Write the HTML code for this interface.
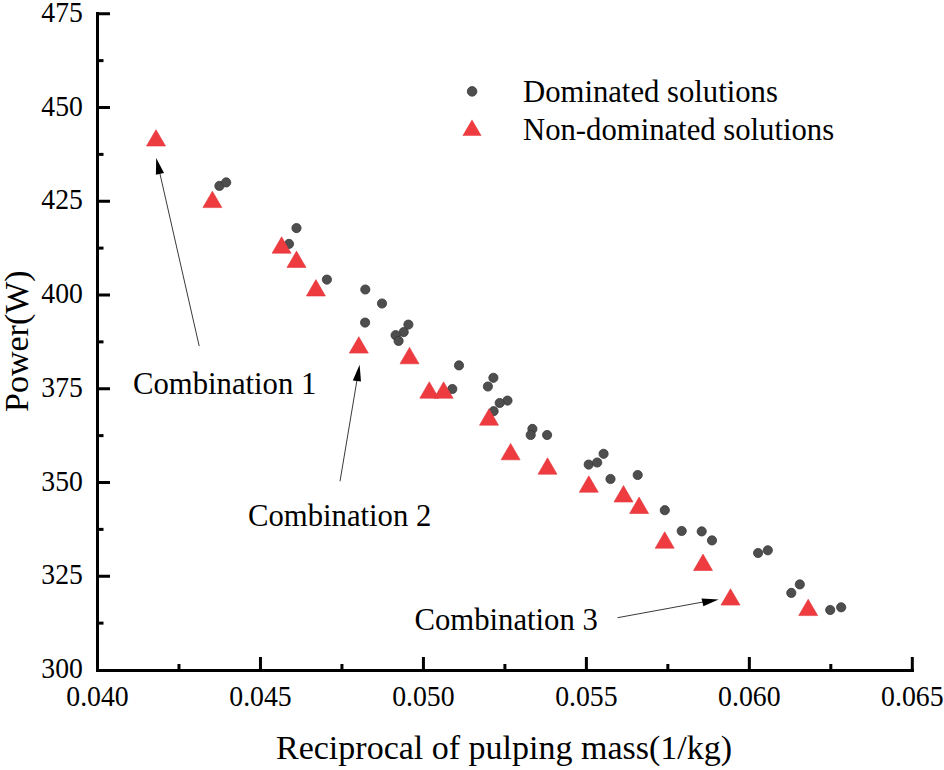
<!DOCTYPE html>
<html><head><meta charset="utf-8"><style>
html,body{margin:0;padding:0;background:#fff;}
body{width:944px;height:770px;overflow:hidden;}
svg{display:block;}
text{font-family:"Liberation Serif",serif;fill:#000;}
</style></head><body>
<svg width="944" height="770" viewBox="0 0 944 770">
<rect width="944" height="770" fill="#fff"/>
<g fill="#4e4e4e" stroke="#383838" stroke-width="0.8"><circle cx="219.4" cy="185.9" r="4.6"/><circle cx="226.2" cy="182.4" r="4.6"/><circle cx="296.5" cy="228.1" r="4.6"/><circle cx="289" cy="243.9" r="4.6"/><circle cx="326.9" cy="279.6" r="4.6"/><circle cx="365.3" cy="289.5" r="4.6"/><circle cx="382" cy="303.5" r="4.6"/><circle cx="365.1" cy="322.6" r="4.6"/><circle cx="408.4" cy="324.6" r="4.6"/><circle cx="403.7" cy="332.1" r="4.6"/><circle cx="395.6" cy="335.2" r="4.6"/><circle cx="398.6" cy="340.9" r="4.6"/><circle cx="459" cy="365.4" r="4.6"/><circle cx="452.3" cy="389" r="4.6"/><circle cx="493.4" cy="377.8" r="4.6"/><circle cx="487.9" cy="386.5" r="4.6"/><circle cx="507.5" cy="400.6" r="4.6"/><circle cx="499.7" cy="403" r="4.6"/><circle cx="493.6" cy="411.2" r="4.6"/><circle cx="532.4" cy="428.9" r="4.6"/><circle cx="530.7" cy="435" r="4.6"/><circle cx="547.1" cy="435" r="4.6"/><circle cx="588.7" cy="464.6" r="4.6"/><circle cx="597.2" cy="462.5" r="4.6"/><circle cx="603.6" cy="453.8" r="4.6"/><circle cx="610.5" cy="479" r="4.6"/><circle cx="637.7" cy="475" r="4.6"/><circle cx="664.8" cy="510.2" r="4.6"/><circle cx="681.7" cy="531" r="4.6"/><circle cx="701.7" cy="531.4" r="4.6"/><circle cx="712" cy="540.4" r="4.6"/><circle cx="758.1" cy="553" r="4.6"/><circle cx="767.8" cy="550.3" r="4.6"/><circle cx="799.8" cy="584.4" r="4.6"/><circle cx="791.3" cy="592.9" r="4.6"/><circle cx="830.2" cy="610" r="4.6"/><circle cx="841.2" cy="607.3" r="4.6"/></g>
<g fill="#ee3b40" stroke="#e2353a" stroke-width="0.6"><path d="M156.0 129.7L165.5 146.0L146.5 146.0Z"/><path d="M212.4 191.2L221.9 207.6L202.9 207.6Z"/><path d="M281.6 236.8L291.1 253.2L272.1 253.2Z"/><path d="M296.5 251.1L306.0 267.4L287.0 267.4Z"/><path d="M315.9 279.6L325.4 296.0L306.4 296.0Z"/><path d="M358.8 336.7L368.3 353.1L349.3 353.1Z"/><path d="M409.5 347.4L419.0 363.8L400.0 363.8Z"/><path d="M429.3 381.8L438.8 398.2L419.8 398.2Z"/><path d="M443.6 381.8L453.1 398.2L434.1 398.2Z"/><path d="M489.0 408.8L498.5 425.2L479.5 425.2Z"/><path d="M510.6 443.4L520.1 459.8L501.1 459.8Z"/><path d="M547.5 457.8L557.0 474.2L538.0 474.2Z"/><path d="M588.8 475.8L598.3 492.2L579.3 492.2Z"/><path d="M623.5 485.6L633.0 502.0L614.0 502.0Z"/><path d="M639.1 497.1L648.6 513.5L629.6 513.5Z"/><path d="M664.7 531.8L674.2 548.2L655.2 548.2Z"/><path d="M703.0 554.1L712.5 570.5L693.5 570.5Z"/><path d="M730.5 588.7L740.0 605.1L721.0 605.1Z"/><path d="M808.2 599.2L817.7 615.6L798.7 615.6Z"/></g>
<g fill="#000">
<rect x="96" y="12" width="3" height="660"/>
<rect x="96" y="669" width="818" height="3"/>
<rect x="96" y="621.62" width="7.5" height="3"/><rect x="96" y="574.75" width="14" height="3"/><rect x="96" y="527.88" width="7.5" height="3"/><rect x="96" y="481.00" width="14" height="3"/><rect x="96" y="434.12" width="7.5" height="3"/><rect x="96" y="387.25" width="14" height="3"/><rect x="96" y="340.38" width="7.5" height="3"/><rect x="96" y="293.50" width="14" height="3"/><rect x="96" y="246.62" width="7.5" height="3"/><rect x="96" y="199.75" width="14" height="3"/><rect x="96" y="152.88" width="7.5" height="3"/><rect x="96" y="106.00" width="14" height="3"/><rect x="96" y="59.12" width="7.5" height="3"/><rect x="96" y="12.25" width="14" height="3"/><rect x="177.48" y="664" width="3" height="8"/><rect x="258.96" y="657" width="3" height="15"/><rect x="340.44" y="664" width="3" height="8"/><rect x="421.92" y="657" width="3" height="15"/><rect x="503.40" y="664" width="3" height="8"/><rect x="584.88" y="657" width="3" height="15"/><rect x="666.36" y="664" width="3" height="8"/><rect x="747.84" y="657" width="3" height="15"/><rect x="829.32" y="664" width="3" height="8"/><rect x="910.80" y="657" width="3" height="15"/>
</g>
<g font-size="28.5"><text x="82.8" y="678.0" text-anchor="end" textLength="41.5" lengthAdjust="spacingAndGlyphs">300</text><text x="82.8" y="584.2" text-anchor="end" textLength="41.5" lengthAdjust="spacingAndGlyphs">325</text><text x="82.8" y="490.5" text-anchor="end" textLength="41.5" lengthAdjust="spacingAndGlyphs">350</text><text x="82.8" y="396.8" text-anchor="end" textLength="41.5" lengthAdjust="spacingAndGlyphs">375</text><text x="82.8" y="303.0" text-anchor="end" textLength="41.5" lengthAdjust="spacingAndGlyphs">400</text><text x="82.8" y="209.2" text-anchor="end" textLength="41.5" lengthAdjust="spacingAndGlyphs">425</text><text x="82.8" y="115.5" text-anchor="end" textLength="41.5" lengthAdjust="spacingAndGlyphs">450</text><text x="82.8" y="21.8" text-anchor="end" textLength="41.5" lengthAdjust="spacingAndGlyphs">475</text><text x="97.5" y="705.5" text-anchor="middle" textLength="62.5" lengthAdjust="spacingAndGlyphs">0.040</text><text x="260.5" y="705.5" text-anchor="middle" textLength="62.5" lengthAdjust="spacingAndGlyphs">0.045</text><text x="423.4" y="705.5" text-anchor="middle" textLength="62.5" lengthAdjust="spacingAndGlyphs">0.050</text><text x="586.4" y="705.5" text-anchor="middle" textLength="62.5" lengthAdjust="spacingAndGlyphs">0.055</text><text x="749.3" y="705.5" text-anchor="middle" textLength="62.5" lengthAdjust="spacingAndGlyphs">0.060</text><text x="912.3" y="705.5" text-anchor="middle" textLength="62.5" lengthAdjust="spacingAndGlyphs">0.065</text></g>
<text x="276" y="759" font-size="34">Reciprocal of pulping mass(1/kg)</text>
<text transform="translate(27.5 412) rotate(-90)" font-size="34">Power(W)</text>
<g font-size="30.7">
<text x="523" y="101.5">Dominated solutions</text>
<text x="523" y="140">Non-dominated solutions</text>
</g>
<circle cx="472.1" cy="91.4" r="4.8" fill="#4e4e4e" stroke="#383838" stroke-width="0.8"/>
<path d="M472 119.4L481.5 135.8L462.5 135.8Z" fill="#ee3b40"/>
<g font-size="30.7">
<text x="133" y="394">Combination 1</text>
<text x="248" y="525.7">Combination 2</text>
<text x="414.5" y="630">Combination 3</text>
</g>
<g stroke="#3a3a3a" stroke-width="1.0" fill="none">
<line x1="199.2" y1="346.1" x2="160" y2="174"/>
<line x1="340" y1="481.3" x2="357" y2="380"/>
<line x1="617.6" y1="617.7" x2="703" y2="602"/>
</g>
<g fill="#000">
<path d="M156.2 158.1L164 172.9L155.9 174.7Z"/>
<path d="M359.6 364.7L361 381.5L352.8 380.5Z"/>
<path d="M718.6 599.5L703.4 606.3L701.5 598.6Z"/>
</g>
</svg>
</body></html>
